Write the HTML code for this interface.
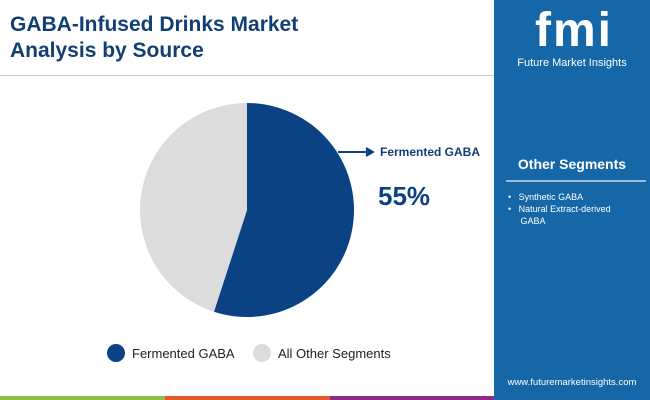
<!DOCTYPE html>
<html><head><meta charset="utf-8"><style>
body{margin:0;width:650px;height:400px;overflow:hidden;background:#fff;font-family:"Liberation Sans",sans-serif;position:relative}
.abs{position:absolute}
</style></head><body>
<div class="abs" style="left:10px;top:12px;font-size:21px;font-weight:bold;color:#123f73;line-height:26px">GABA-Infused Drinks Market<br>Analysis by Source</div>
<div class="abs" style="left:0;top:75px;width:494px;height:1px;background:#ccc"></div>
<div class="abs" style="left:494px;top:0;width:156px;height:400px;background:#1667a8">
 <div style="position:absolute;left:28px;top:8px;width:104px;height:46px;color:#fff;font-size:48px;font-weight:bold;text-align:center;line-height:46px;letter-spacing:2px">fmi</div>
 <div style="position:absolute;left:0;width:156px;top:57px;text-align:center;color:#fff;font-size:11px">Future Market Insights</div>
 <div style="position:absolute;left:0;width:156px;top:156px;text-align:center;color:#fff;font-size:14px;font-weight:bold">Other Segments</div>
 <div style="position:absolute;left:12px;width:140px;top:180px;height:2px;background:#9dbbd8"></div>
 <div style="position:absolute;left:14px;top:191px;color:#fff;font-size:9px;line-height:12px">
  <div>•&nbsp;&nbsp;&nbsp;Synthetic GABA</div>
  <div>•&nbsp;&nbsp;&nbsp;Natural Extract-derived<br>&nbsp;&nbsp;&nbsp;&nbsp;&nbsp;GABA</div>
 </div>
 <div style="position:absolute;left:0;width:156px;top:377px;text-align:center;color:#fff;font-size:9.5px">www.futuremarketinsights.com</div>
</div>
<div class="abs" style="left:0;top:396px;width:165px;height:4px;background:#8dc044"></div>
<div class="abs" style="left:165px;top:396px;width:165px;height:4px;background:#e55a2a"></div>
<div class="abs" style="left:330px;top:396px;width:164px;height:4px;background:#8c2a86"></div>
<svg class="abs" style="left:0;top:0" width="494" height="396" id="pie"></svg>
<script>
const labels=["Fermented GABA","All Other Segments"];
const values=[55,45];
const colors=["#0b4283","#dcdcdc"];
const svg=document.getElementById('pie');const NS="http://www.w3.org/2000/svg";
const cx=247,cy=210,r=107;const total=values.reduce((a,b)=>a+b,0);
let a0=0;
values.forEach((v,i)=>{const a1=a0+v/total*2*Math.PI;
const p=document.createElementNS(NS,'path');
const x0=cx+r*Math.sin(a0),y0=cy-r*Math.cos(a0),x1=cx+r*Math.sin(a1),y1=cy-r*Math.cos(a1);
p.setAttribute('d',`M${cx},${cy}L${x0},${y0}A${r},${r} 0 ${a1-a0>Math.PI?1:0} 1 ${x1},${y1}Z`);
p.setAttribute('fill',colors[i]);


svg.appendChild(p);a0=a1;});
const ln=document.createElementNS(NS,'path');
ln.setAttribute('d','M338,152 L372,152 M366,148 L373,152 L366,156');
ln.setAttribute('stroke','#0b4283');ln.setAttribute('stroke-width','2');ln.setAttribute('fill','#0b4283');


svg.appendChild(ln);
const t=document.createElementNS(NS,'text');t.setAttribute('x',380);t.setAttribute('y',156);t.setAttribute('font-size','12');t.setAttribute('font-weight','bold');t.setAttribute('fill','#123f73');t.textContent=labels[0];


svg.appendChild(t);
const pc=document.createElementNS(NS,'text');pc.setAttribute('x',378);pc.setAttribute('y',205);pc.setAttribute('font-size','26');pc.setAttribute('font-weight','bold');pc.setAttribute('fill','#0b4283');pc.textContent=values[0]+'%';


svg.appendChild(pc);
const lx=[116,262];
labels.forEach((l,i)=>{const c=document.createElementNS(NS,'circle');c.setAttribute('cx',lx[i]);c.setAttribute('cy',353);c.setAttribute('r',9);c.setAttribute('fill',colors[i]);


svg.appendChild(c);
const tx=document.createElementNS(NS,'text');tx.setAttribute('x',lx[i]+16);tx.setAttribute('y',358);tx.setAttribute('font-size','13');tx.setAttribute('fill','#222');tx.textContent=l;


svg.appendChild(tx);});
</script>
</body></html>
